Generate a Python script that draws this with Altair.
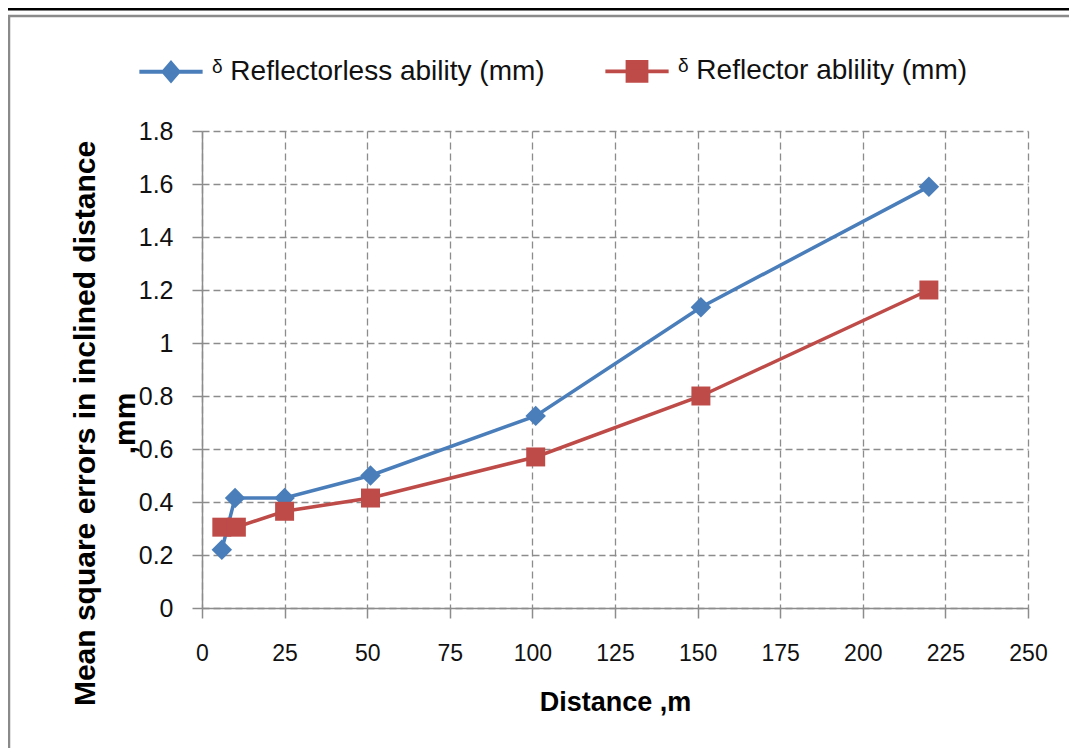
import altair as alt
import pandas as pd

# ---- data ----
series_names = ["ᵟ Reflectorless ability (mm)", "ᵟ Reflector ablility (mm)"]
distance_reflectorless = [6, 10, 25, 51, 101, 151, 220]
error_reflectorless = [0.22, 0.415, 0.415, 0.50, 0.725, 1.135, 1.59]
distance_reflector = [6, 10.4, 25, 51, 101, 151, 220]
error_reflector = [0.305, 0.305, 0.365, 0.415, 0.57, 0.80, 1.20]
x_ticks = [0, 25, 50, 75, 100, 125, 150, 175, 200, 225, 250]
y_ticks = [0, 0.2, 0.4, 0.6, 0.8, 1.0, 1.2, 1.4, 1.6, 1.8]

colors = ["#4A7EBB", "#BE4B48"]
legend_paths = [
    "M-1,0H1M0,-0.28L0.24,0L0,0.28L-0.24,0Z",
    "M-1,0H1M-0.3,-0.3H0.3V0.3H-0.3Z",
]

df = pd.concat([
    pd.DataFrame({"series": series_names[0], "distance": distance_reflectorless,
                  "error": error_reflectorless, "order": range(7)}),
    pd.DataFrame({"series": series_names[1], "distance": distance_reflector,
                  "error": error_reflector, "order": range(7)}),
], ignore_index=True)

legend_df = pd.DataFrame({"series": series_names, "distance": [None, None], "error": [None, None]})

FONT = "Liberation Sans"

xenc = alt.X("distance:Q",
             scale=alt.Scale(domain=[0, 250], nice=False),
             axis=alt.Axis(values=x_ticks, title="Distance ,m", format="d",
                           titleY=94, titleBaseline="middle", labelPadding=24,
                           labelFlush=False, labelFontSize=23, titleFontSize=27))
yenc = alt.Y("error:Q",
             scale=alt.Scale(domain=[0, 1.8], nice=False),
             axis=alt.Axis(values=y_ticks, format=".1~f",
                           title=["Mean square errors in inclined distance", ",mm"],
                           titleX=-117, titleY=292, titleBaseline="middle",
                           titleAlign="center", titleLineHeight=40, titleFontSize=30,
                           labelPadding=19, labelFontSize=25, labelFlush=False))

# colour scale for the drawn marks (domain listed in reverse so that its hidden
# legend is not merged with the visible one)
color_enc = alt.Color("series:N",
                      scale=alt.Scale(domain=series_names[::-1], range=colors[::-1]),
                      legend=None)

base = alt.Chart(df)

lines = base.mark_line(strokeWidth=3.5).encode(
    x=xenc, y=yenc, color=color_enc, order="order:Q", detail="series:N")

pts_a = base.transform_filter(alt.datum.series == series_names[0]).mark_point(
    shape="diamond", filled=True, size=420, opacity=1).encode(
    x="distance:Q", y="error:Q", color=color_enc)

pts_b = base.transform_filter(alt.datum.series == series_names[1]).mark_point(
    shape="square", filled=True, size=360, opacity=1).encode(
    x="distance:Q", y="error:Q", color=color_enc)

leg = alt.Legend(title=None, orient="none", legendX=-65, legendY=-94,
                 direction="horizontal", symbolSize=4000, symbolStrokeWidth=3.8,
                 labelFont=FONT, labelFontSize=28, labelColor="#111", labelLimit=0,
                 labelOffset=7, columnPadding=52, symbolOpacity=1)

legend_layer = alt.Chart(legend_df).mark_point(
    filled=True, opacity=1, strokeWidth=3.8).encode(
    x="distance:Q", y="error:Q",
    fill=alt.Fill("series:N", scale=alt.Scale(domain=series_names, range=colors), legend=leg),
    stroke=alt.Stroke("series:N", scale=alt.Scale(domain=series_names, range=colors), legend=leg),
    shape=alt.Shape("series:N", scale=alt.Scale(domain=series_names, range=legend_paths), legend=leg),
)

one = pd.DataFrame({"k": [0]})
frame_left = alt.Chart(one).mark_rule(color="#8a8a8a", strokeWidth=2.5).encode(
    x=alt.value(-193), y=alt.value(-115), y2=alt.value(640))
frame_top = alt.Chart(one).mark_rule(color="#8a8a8a", strokeWidth=2.5).encode(
    x=alt.value(-194), x2=alt.value(900), y=alt.value(-115))
black_top = alt.Chart(one).mark_rule(color="#000", strokeWidth=3).encode(
    x=alt.value(-200), x2=alt.value(900), y=alt.value(-122))

chart = alt.layer(frame_left, frame_top, black_top, lines, pts_a, pts_b, legend_layer).properties(
    width=826, height=477,
    padding={"left": 194, "top": 123, "right": 41, "bottom": 140},
    autosize="none",
).configure_view(stroke=None).configure_axis(
    grid=True, gridColor="#8c8c8c", gridDash=[7, 4], gridWidth=1.3,
    domainColor="#8c8c8c", domainWidth=1.5,
    tickColor="#8c8c8c", tickWidth=1.5, tickSize=10,
    labelFont=FONT, labelColor="#111",
    titleFont=FONT, titleFontWeight="bold", titleColor="#000",
)

chart.save("out.html", embed_options={"renderer": "svg", "actions": False})
